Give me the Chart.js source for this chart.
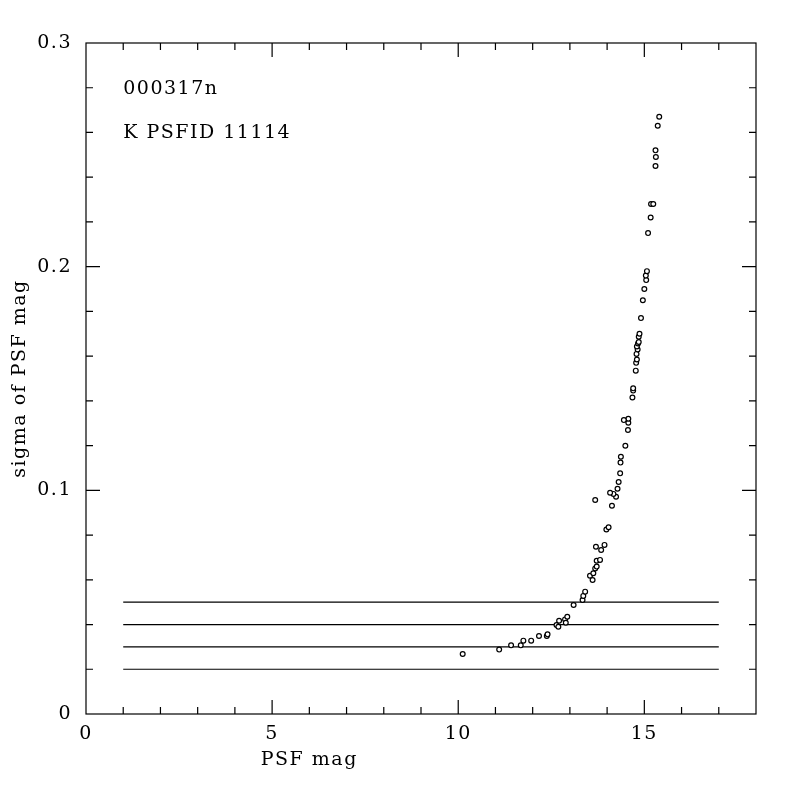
<!doctype html>
<html lang="en">
  <head>
    <meta charset="utf-8">
    <title>000317n K PSFID 11114</title>
    <style>
      * { margin: 0; padding: 0; }
      body { background: white; width: 800px; height: 800px; overflow: hidden; }
    </style>
  </head>
  <body>
    <canvas id="myChart" width="800" height="800"></canvas>
    <script src="https://cdn.jsdelivr.net/npm/chart.js/dist/chart.umd.min.js"></script>
    <script>
    // data
    const magX = [10.12, 11.10, 11.42, 11.68, 11.75, 11.96, 12.17, 12.38, 12.40, 12.64,
                  12.69, 12.71, 12.87, 12.89, 12.93, 13.10, 13.34, 13.36, 13.41, 13.54,
                  13.61, 13.63, 13.68, 13.72, 13.72, 13.81, 13.70, 13.84, 13.93, 13.98,
                  14.04, 13.68, 14.13, 14.24, 14.17, 14.08, 14.28, 14.31, 14.35, 14.36,
                  14.37, 14.49, 14.56, 14.57, 14.57, 14.45, 14.68, 14.70, 14.70, 14.77,
                  14.78, 14.80, 14.79, 14.82, 14.80, 14.83, 14.85, 14.85, 14.87, 14.91,
                  14.96, 15.00, 15.05, 15.04, 15.07, 15.10, 15.17, 15.18, 15.24, 15.30,
                  15.31, 15.30, 15.36, 15.40];
    const sigmaY = [0.0268, 0.0288, 0.0307, 0.0307, 0.0328, 0.0328, 0.0349, 0.0349, 0.0356, 0.0398,
                    0.0390, 0.0417, 0.0423, 0.0408, 0.0435, 0.0487, 0.0510, 0.0528, 0.0547, 0.0618,
                    0.0599, 0.0629, 0.0651, 0.0659, 0.0685, 0.0689, 0.0748, 0.0733, 0.0756, 0.0825,
                    0.0835, 0.0957, 0.0931, 0.0971, 0.0984, 0.0989, 0.1007, 0.1037, 0.1076, 0.1124,
                    0.1150, 0.1199, 0.1270, 0.1302, 0.1320, 0.1314, 0.1415, 0.1446, 0.1456, 0.1535,
                    0.1570, 0.1585, 0.1610, 0.1630, 0.1643, 0.1657, 0.1663, 0.1687, 0.1700, 0.1770,
                    0.1850, 0.1900, 0.1940, 0.1960, 0.1980, 0.2150, 0.2220, 0.2280, 0.2280, 0.2450,
                    0.2490, 0.2520, 0.2630, 0.2670];
    const lineLevels = [0.02, 0.03, 0.04, 0.05];   // reference lines
    const lineFrom = 1;
    const lineTo = 17;
    const notes = ['000317n', 'K PSFID 11114'];
    const noteY = [0.2794, 0.2598];
    const xTitle = 'PSF mag';
    const yTitle = 'sigma of PSF mag';

    const FONT = "'DejaVu Serif', serif";

    const points = magX.map((x, i) => ({ x: x, y: sigmaY[i] }));

    const datasets = [{
      label: 'stars',
      data: points,
      pointStyle: 'circle',
      pointRadius: 2.4,
      pointBorderWidth: 1.2,
      pointBorderColor: 'black',
      pointBackgroundColor: 'white',
      showLine: false
    }];
    lineLevels.forEach(lvl => {
      datasets.push({
        label: 'level ' + lvl,
        data: [{ x: lineFrom, y: lvl }, { x: lineTo, y: lvl }],
        showLine: true,
        borderColor: 'black',
        borderWidth: 1.2,
        pointRadius: 0
      });
    });

    // frame, inward tick marks, notes and the x title
    const frame = {
      id: 'frame',
      beforeDraw(chart) {
        chart.ctx.letterSpacing = '1.5px';
      },
      afterDraw(chart) {
        const { ctx, chartArea: { left, right, top, bottom }, scales: { x, y } } = chart;
        ctx.save();
        ctx.strokeStyle = 'black';
        ctx.lineWidth = 1.2;
        ctx.strokeRect(left, top, right - left, bottom - top);

        ctx.beginPath();
        for (let v = 1; v < 18; v++) {
          const px = x.getPixelForValue(v);
          const len = v % 5 === 0 ? 14 : 7;
          ctx.moveTo(px, bottom); ctx.lineTo(px, bottom - len);
          ctx.moveTo(px, top); ctx.lineTo(px, top + len);
        }
        for (let k = 1; k < 15; k++) {
          const py = y.getPixelForValue(k * 0.02);
          const len = k % 5 === 0 ? 14 : 7;
          ctx.moveTo(left, py); ctx.lineTo(left + len, py);
          ctx.moveTo(right, py); ctx.lineTo(right - len, py);
        }
        ctx.stroke();

        ctx.fillStyle = 'black';
        ctx.font = '19px ' + FONT;
        ctx.letterSpacing = '1.5px';
        ctx.textAlign = 'left';
        ctx.textBaseline = 'middle';
        notes.forEach((t, i) => {
          ctx.fillText(t, x.getPixelForValue(lineFrom), y.getPixelForValue(noteY[i]));
        });

        ctx.textAlign = 'center';
        ctx.fillText(xTitle, x.getPixelForValue(6), bottom + 46);
        ctx.restore();
        ctx.letterSpacing = '0px';
      }
    };

    const config = {
      type: 'scatter',
      data: { datasets },
      options: {
        responsive: false,
        animation: false,
        devicePixelRatio: 1,
        layout: { padding: { top: 43, right: 44, left: 0, bottom: 0 } },
        plugins: {
          legend: { display: false },
          tooltip: { enabled: false }
        },
        scales: {
          x: {
            type: 'linear',
            min: 0,
            max: 18,
            grid: { display: false, drawTicks: false },
            border: { display: false },
            afterFit(scale) { scale.height = 86; },
            ticks: {
              stepSize: 1,
              autoSkip: false,
              maxRotation: 0,
              padding: 9,
              color: 'black',
              font: { family: FONT, size: 19 },
              callback: v => (v % 5 === 0 ? String(v) : '')
            }
          },
          y: {
            type: 'linear',
            min: 0,
            max: 0.3,
            grid: { display: false, drawTicks: false },
            border: { display: false },
            afterFit(scale) { scale.width = 86; },
            title: {
              display: true,
              text: yTitle,
              color: 'black',
              font: { family: FONT, size: 19 },
              padding: { top: 9, bottom: 0 }
            },
            ticks: {
              stepSize: 0.02,
              autoSkip: false,
              padding: 14,
              color: 'black',
              font: { family: FONT, size: 19 },
              callback: v => {
                const k = Math.round(v * 100);
                return k % 10 === 0 ? String(k / 100) : '';
              }
            }
          }
        }
      },
      plugins: [frame]
    };

    const myChart = new Chart(document.getElementById('myChart'), config);
    </script>
  </body>
</html>
